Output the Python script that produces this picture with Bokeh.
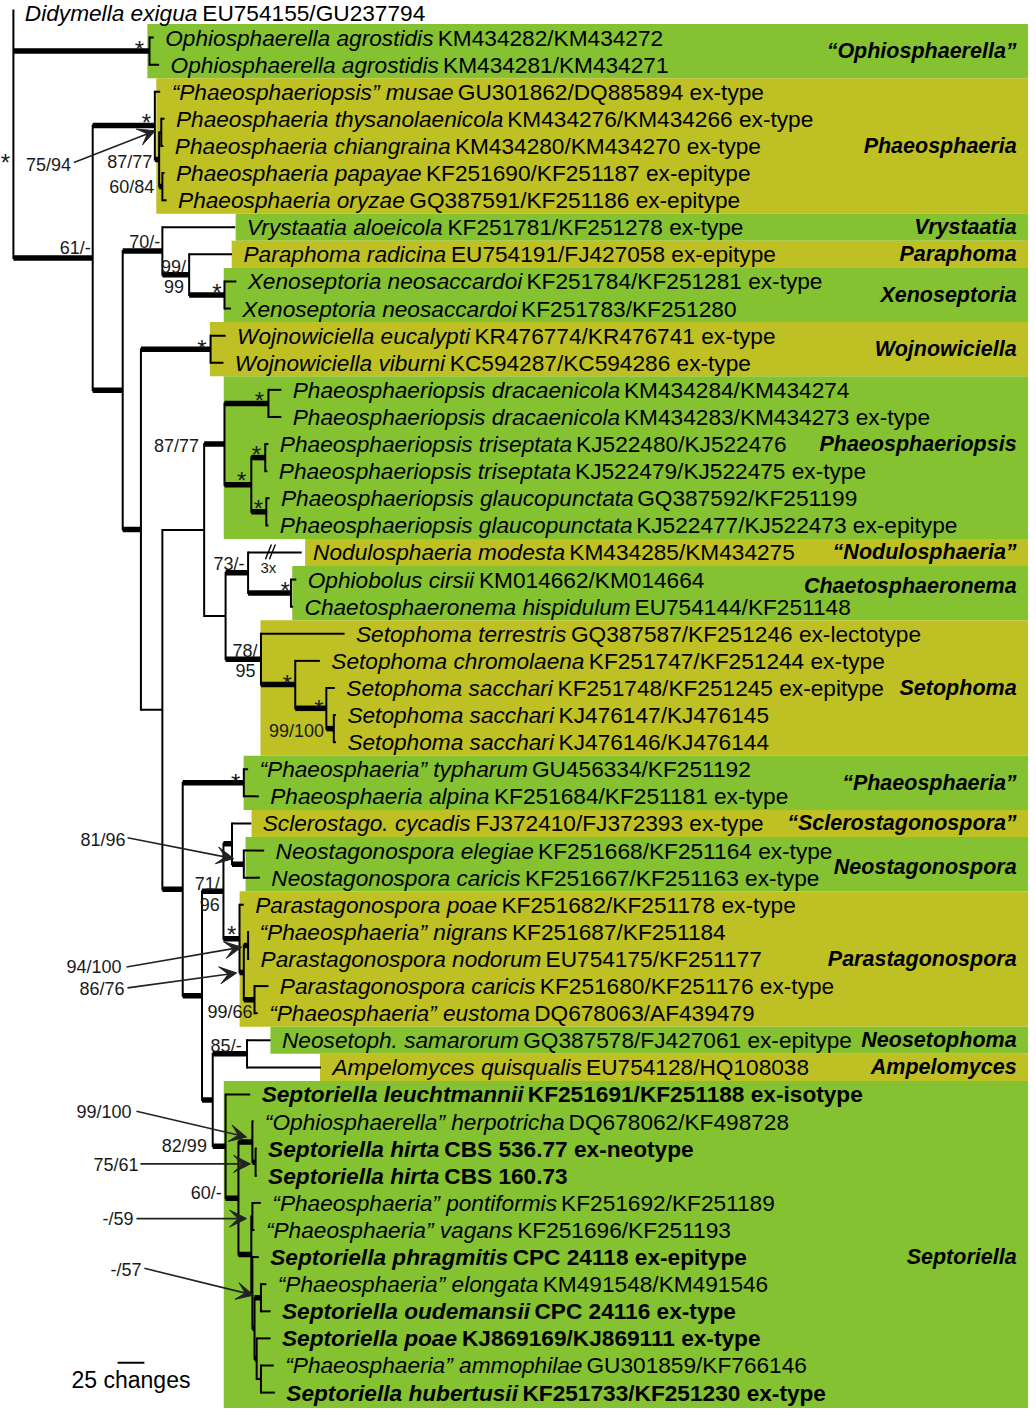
import glob, os
from bokeh.plotting import figure
from bokeh.models import Range1d, ColumnDataSource, Arrow, VeeHead
from bokeh.core.properties import value
from bokeh.embed import file_html
from bokeh.resources import INLINE

# ---------------- data: taxa (top to bottom) ----------------
leaf_name = [
    "Didymella exigua", "Ophiosphaerella agrostidis", "Ophiosphaerella agrostidis",
    "\u201cPhaeosphaeriopsis\u201d musae", "Phaeosphaeria thysanolaenicola", "Phaeosphaeria chiangraina",
    "Phaeosphaeria papayae", "Phaeosphaeria oryzae", "Vrystaatia aloeicola", "Paraphoma radicina",
    "Xenoseptoria neosaccardoi", "Xenoseptoria neosaccardoi", "Wojnowiciella eucalypti",
    "Wojnowiciella viburni", "Phaeosphaeriopsis dracaenicola", "Phaeosphaeriopsis dracaenicola",
    "Phaeosphaeriopsis triseptata", "Phaeosphaeriopsis triseptata", "Phaeosphaeriopsis glaucopunctata",
    "Phaeosphaeriopsis glaucopunctata", "Nodulosphaeria modesta", "Ophiobolus cirsii",
    "Chaetosphaeronema hispidulum", "Setophoma terrestris", "Setophoma chromolaena",
    "Setophoma sacchari", "Setophoma sacchari", "Setophoma sacchari",
    "\u201cPhaeosphaeria\u201d typharum", "Phaeosphaeria alpina", "Sclerostago. cycadis",
    "Neostagonospora elegiae", "Neostagonospora caricis", "Parastagonospora poae",
    "\u201cPhaeosphaeria\u201d nigrans", "Parastagonospora nodorum", "Parastagonospora caricis",
    "\u201cPhaeosphaeria\u201d eustoma", "Neosetoph. samarorum", "Ampelomyces quisqualis",
    "Septoriella leuchtmannii", "\u201cOphiosphaerella\u201d herpotricha", "Septoriella hirta",
    "Septoriella hirta", "\u201cPhaeosphaeria\u201d pontiformis", "\u201cPhaeosphaeria\u201d vagans",
    "Septoriella phragmitis", "\u201cPhaeosphaeria\u201d elongata", "Septoriella oudemansii",
    "Septoriella poae", "\u201cPhaeosphaeria\u201d ammophilae", "Septoriella hubertusii",
]
leaf_acc = [
    "EU754155/GU237794", "KM434282/KM434272", "KM434281/KM434271",
    "GU301862/DQ885894 ex-type", "KM434276/KM434266 ex-type", "KM434280/KM434270 ex-type",
    "KF251690/KF251187 ex-epitype", "GQ387591/KF251186 ex-epitype", "KF251781/KF251278 ex-type",
    "EU754191/FJ427058 ex-epitype", "KF251784/KF251281 ex-type", "KF251783/KF251280",
    "KR476774/KR476741 ex-type", "KC594287/KC594286 ex-type", "KM434284/KM434274",
    "KM434283/KM434273 ex-type", "KJ522480/KJ522476", "KJ522479/KJ522475 ex-type",
    "GQ387592/KF251199", "KJ522477/KJ522473 ex-epitype", "KM434285/KM434275",
    "KM014662/KM014664", "EU754144/KF251148", "GQ387587/KF251246 ex-lectotype",
    "KF251747/KF251244 ex-type", "KF251748/KF251245 ex-epitype", "KJ476147/KJ476145",
    "KJ476146/KJ476144", "GU456334/KF251192", "KF251684/KF251181 ex-type",
    "FJ372410/FJ372393 ex-type", "KF251668/KF251164 ex-type", "KF251667/KF251163 ex-type",
    "KF251682/KF251178 ex-type", "KF251687/KF251184", "EU754175/KF251177",
    "KF251680/KF251176 ex-type", "DQ678063/AF439479", "GQ387578/FJ427061 ex-epitype",
    "EU754128/HQ108038", "KF251691/KF251188 ex-isotype", "DQ678062/KF498728",
    "CBS 536.77 ex-neotype", "CBS 160.73", "KF251692/KF251189", "KF251696/KF251193",
    "CPC 24118 ex-epitype", "KM491548/KM491546", "CPC 24116 ex-type",
    "KJ869169/KJ869111 ex-type", "GU301859/KF766146", "KF251733/KF251230 ex-type",
]
leaf_bold = [False] * 40 + [True, False, True, True, False, False, True, False, True, True, False, True]
# tip depth of each terminal branch, in changes from the root
leaf_tip = [0, 131, 136, 137, 141, 140, 141, 143, 207, 204, 208, 203, 198, 196, 250, 250,
            238, 237, 239, 238, 269, 264, 261, 309, 286, 300, 301, 301, 219, 229, 222, 234,
            230, 215, 219, 220, 238, 228, 240, 287, 221, 224, 227, 227, 231, 225, 229, 236,
            240, 240, 243, 244]
leaf_parent = ["root", "ophio", "ophio", "ph", "ph2a", "ph2a", "ph4", "ph4", "n70", "n99",
               "xeno", "xeno", "wojno", "wojno", "drac", "drac", "tris", "tris", "glau", "glau",
               "n73", "ophcha", "ophcha", "n78", "seto2", "seto3", "seto4", "seto4", "typh", "typh",
               "scl", "neost", "neost", "P", "K", "K", "L", "L", "n85", "n85",
               "J", "N", "hirta", "hirta", "U", "U", "W", "R", "R", "S", "T", "T"]

# ---------------- data: internal nodes ----------------
node_name = ["root", "ophio", "n93", "ph", "ph2", "ph2a", "ph4", "r2", "n70", "n99", "xeno",
             "A", "wojno", "B", "C", "psopsis", "drac", "trisg", "tris", "glau", "E", "n73",
             "ophcha", "n78", "seto2", "seto3", "seto4", "D", "typh", "G", "H", "scl", "neost",
             "P", "Q", "K", "L", "I", "n85", "J", "M", "N", "hirta", "O", "U", "W", "X", "R",
             "S", "T"]
node_depth = [0, 127, 74, 132, 136, 138, 139, 102, 139, 164, 197,
              119, 184, 139, 178, 197, 238, 222, 235, 236, 198, 219,
              259, 231, 263, 292, 299, 158, 215, 176, 196, 204, 215,
              211, 215, 219, 225, 186, 218, 198, 210, 223, 226, 222, 223, 223, 225, 231,
              227, 231]
node_parent = [None, "root", "root", "n93", "ph", "ph2", "ph2", "n93", "r2", "n70", "n99",
               "r2", "A", "A", "B", "C", "psopsis", "psopsis", "trisg", "trisg", "C", "E",
               "n73", "E", "n78", "seto2", "seto3", "B", "D", "D", "G", "H", "scl",
               "H", "P", "Q", "Q", "G", "I", "I", "J", "M", "N", "M", "O", "O", "W", "X",
               "X", "S"]
node_thick = [False, True, True, True, True, False, True, True, True, True, True,
              True, True, False, False, True, True, True, True, True, False, True,
              True, True, True, True, True, True, True, True, True, True, True,
              True, True, True, True, True, True, True, True, True, True, True, False, False, True, True,
              True, False]

# ---------------- data: clades ----------------
clade_name = ["\u201cOphiosphaerella\u201d", "Phaeosphaeria", "Vrystaatia", "Paraphoma", "Xenoseptoria",
              "Wojnowiciella", "Phaeosphaeriopsis", "\u201cNodulosphaeria\u201d", "Chaetosphaeronema",
              "Setophoma", "\u201cPhaeosphaeria\u201d", "\u201cSclerostagonospora\u201d", "Neostagonospora",
              "Parastagonospora", "Neosetophoma", "Ampelomyces", "Septoriella"]
clade_first = [1, 3, 8, 9, 10, 12, 14, 20, 21, 23, 28, 30, 31, 33, 38, 39, 40]
clade_last = [2, 7, 8, 9, 11, 13, 19, 20, 22, 27, 29, 30, 32, 37, 38, 39, 51]
clade_label_row = [1.5, 5, 8, 9, 10.5, 12.5, 16, 20, 21.25, 25, 28.5, 30, 31.6, 35, 38, 39, 46]
clade_green = [True, False, True, False, True, False, True, False, True, False, True, False,
               True, False, True, False, True]

# ---------------- data: support values ----------------
support_text = ["*", "*", "*", "75/94", "87/77", "60/84", "61/-", "70/-", "99/", "99", "*", "*",
                "*", "87/77", "*", "*", "*", "73/-", "3x", "*", "78/", "95", "*", "*", "99/100",
                "*", "81/96", "71/", "96", "*", "94/100", "86/76", "99/66", "85/-", "99/100",
                "82/99", "75/61", "60/-", "-/59", "-/57"]
# ---------------- layout (pixels of the reference) ----------------
support_x = [5, 140, 147, 71, 153, 155, 91, 161, 187, 185, 218, 203, 261, 200, 258, 243, 260, 246,
             270, 287, 259, 257, 289, 321, 326, 237, 126, 221, 221, 233, 122, 125, 254, 243, 132,
             208, 139, 223, 134, 142]
support_y = [157, 44, 117, 165, 162, 188, 249, 243, 268, 288, 288, 344, 397, 448, 451, 477, 505,
             567, 570, 588, 654, 674, 681, 707, 735, 781, 844, 889, 909, 934, 972, 994, 1017,
             1051, 1118, 1152, 1171, 1199, 1225, 1277]
arrow_x0 = [74, 128, 127, 128, 137, 141, 137, 145]
arrow_y0 = [163, 842, 972, 993, 1117, 1170, 1225, 1275]
arrow_x1 = [156, 235, 243, 238, 248, 252, 248, 255]
arrow_y1 = [131, 863, 952, 978, 1143, 1170, 1225, 1302]
band_left_px = [148, 157, 237, 233, 225, 211, 225, 307, 294, 262, 245, 253, 247, 241, 272, 322, 225]

ROOT_PX, PX_PER_CHANGE = 13.0, 27.0 / 25.0
Y0_PX, ROW = 10.0, 27.255
LABEL_GAP_PX = 11.5
TOP_LABEL_NUDGE_PX = 3.0   # keeps the first taxon label inside the page
GREEN, OLIVE = "#84c232", "#bec024"
REF_W, REF_H = 1036.0, 1416.0


def xc(px):
    return (px - ROOT_PX) / PX_PER_CHANGE


def yi(py):
    return (py - Y0_PX) / ROW


# ---------------- font measuring ----------------
FONT_FILES = {"normal": "LiberationSans-Regular.ttf", "italic": "LiberationSans-Italic.ttf",
              "bold": "LiberationSans-Bold.ttf", "bold italic": "LiberationSans-BoldItalic.ttf"}
fonts = {}
try:
    from PIL import ImageFont
    for st, fn in FONT_FILES.items():
        for rootdir in ["/usr/share/fonts", "/usr/local/share/fonts", os.path.expanduser("~/.fonts"),
                        os.path.expanduser("~/.local/share/fonts")]:
            hits = glob.glob(os.path.join(rootdir, "**", fn), recursive=True)
            if hits:
                fonts[st] = ImageFont.truetype(hits[0], 100)
                break
except Exception:
    fonts = {}


def measure(text, style, size):
    f = fonts.get(style)
    if f is not None:
        return f.getlength(text) * size / 100.0
    k = 0.58 if "bold" in style else 0.53
    return len(text) * k * size


ref = measure(leaf_name[4], "italic", 100) + measure(" " + leaf_acc[4], "normal", 100)
LEAF_FS = max(19.0, min(25.0, 100.0 * 640.0 / ref))

# ---------------- tree geometry ----------------
children = {n: [] for n in node_name}
for i, par in enumerate(leaf_parent):
    children[par].append(("leaf", i))
for n, par in zip(node_name, node_parent):
    if par is not None:
        children[par].append(("node", n))
depth = dict(zip(node_name, node_depth))
ycache = {}


def ypos(kind, key):
    if kind == "leaf":
        return float(key)
    if key not in ycache:
        ys = [ypos(k, c) for k, c in children[key]]
        ycache[key] = (min(ys) + max(ys)) / 2.0
    return ycache[key]


# figure (covers the full reference extent)
p = figure(width=1028, height=1408, output_backend="svg", toolbar_location=None,
           x_range=Range1d(xc(0), xc(REF_W)), y_range=Range1d(yi(REF_H), yi(0)),
           x_axis_location=None, y_axis_location=None, min_border=0)
p.grid.visible = False
p.outline_line_color = None
p.background_fill_color = "white"
p.border_fill_color = "white"

# clade bands
btop, bbot = [], []
for k, (a, b) in enumerate(zip(clade_first, clade_last)):
    btop.append(a - 0.5)
    bbot.append(b + 0.5 if k < len(clade_first) - 1 else yi(REF_H))
p.quad(left=[xc(v) for v in band_left_px], right=[xc(REF_W)] * len(band_left_px),
       top=btop, bottom=bbot, fill_color=[GREEN if g else OLIVE for g in clade_green],
       line_color=None)

# branches
vx, vy0, vy1 = [], [], []
for n in node_name:
    ys = [ypos(k, c) for k, c in children[n]]
    vx.append(depth[n]); vy0.append(min(ys)); vy1.append(max(ys))
p.segment(x0=vx, y0=vy0, x1=vx, y1=vy1, line_color="black", line_width=2, line_cap="square")

thin_x0, thin_x1, thin_y, thick_x0, thick_x1, thick_y = [], [], [], [], [], []
for n, par, th in zip(node_name, node_parent, node_thick):
    if par is None:
        continue
    tgt = (thick_x0, thick_x1, thick_y) if th else (thin_x0, thin_x1, thin_y)
    tgt[0].append(depth[par]); tgt[1].append(depth[n]); tgt[2].append(ypos("node", n))
for i, (par, tip) in enumerate(zip(leaf_parent, leaf_tip)):
    thin_x0.append(depth[par]); thin_x1.append(tip); thin_y.append(float(i))
p.segment(x0=thin_x0, y0=thin_y, x1=thin_x1, y1=thin_y, line_color="black", line_width=2)
p.segment(x0=thick_x0, y0=thick_y, x1=thick_x1, y1=thick_y, line_color="black", line_width=5.5)

# break mark on the long Nodulosphaeria branch
p.segment(x0=[xc(267), xc(271)], y0=[yi(562), yi(562)], x1=[xc(273), xc(277)], y1=[yi(547), yi(547)],
          line_color="black", line_width=1.4)

# taxon labels (two styles per line)
groups = {"italic": ([], [], []), "normal": ([], [], []), "bold italic": ([], [], []), "bold": ([], [], [])}
for i in range(len(leaf_name)):
    x0 = ROOT_PX + leaf_tip[i] * PX_PER_CHANGE + LABEL_GAP_PX
    row = float(i) + (TOP_LABEL_NUDGE_PX / ROW if i == 0 else 0.0)
    s1, s2 = ("bold italic", "bold") if leaf_bold[i] else ("italic", "normal")
    w1 = measure(leaf_name[i], s1, LEAF_FS)
    sw = measure(" ", s2, LEAF_FS)
    for st, txt, xx in ((s1, leaf_name[i], x0), (s2, leaf_acc[i], x0 + w1 + sw)):
        g = groups[st]
        g[0].append(xc(xx)); g[1].append(row); g[2].append(txt)
for st, (gx, gy, gt) in groups.items():
    if gx:
        p.text(x=gx, y=gy, text=gt, text_font=value("Liberation Sans"), text_font_style=st,
               text_font_size=f"{LEAF_FS:.2f}px", text_baseline="middle", text_align="left",
               text_color="black")

# clade names
p.text(x=[xc(1024)] * len(clade_name), y=clade_label_row, text=clade_name,
       text_font=value("Liberation Sans"), text_font_style="bold italic", text_font_size="21.5px",
       text_baseline="middle", text_align="right", text_color="black")

# support values
sx_r, sy_r, st_r, sx_c, sy_c, st_c, sx_s, sy_s = [], [], [], [], [], [], [], []
for t, x, y in zip(support_text, support_x, support_y):
    if t == "*":
        sx_s.append(xc(x)); sy_s.append(yi(y + 5.5))
    elif t == "3x":
        sx_c.append(xc(x)); sy_c.append(yi(y)); st_c.append(t)
    else:
        sx_r.append(xc(x)); sy_r.append(yi(y)); st_r.append(t)
p.text(x=sx_r, y=sy_r, text=st_r, text_font=value("Liberation Sans"), text_font_size="18px",
       text_baseline="middle", text_align="right", text_color="#1a1a1a")
p.text(x=sx_c, y=sy_c, text=st_c, text_font=value("Liberation Sans"), text_font_size="15px",
       text_baseline="middle", text_align="center", text_color="#1a1a1a")
p.text(x=sx_s, y=sy_s, text=["*"] * len(sx_s), text_font=value("Liberation Sans"), text_font_size="24px",
       text_baseline="middle", text_align="center", text_color="#1a1a1a")

# arrows
for a, b, c, d in zip(arrow_x0, arrow_y0, arrow_x1, arrow_y1):
    p.add_layout(Arrow(end=VeeHead(size=17, fill_color="#222222", line_color="#222222", line_width=1),
                       x_start=xc(a), y_start=yi(b), x_end=xc(c), y_end=yi(d),
                       line_color="#222222", line_width=1.6))

# scale bar
SCALE_CHANGES = 25
p.segment(x0=[xc(118)], y0=[yi(1370)], x1=[xc(118) + SCALE_CHANGES], y1=[yi(1370)],
          line_color="black", line_width=2)
p.text(x=[xc(118) + SCALE_CHANGES / 2.0], y=[yi(1387)], text=[f"{SCALE_CHANGES} changes"],
       text_font=value("Liberation Sans"), text_font_size="23px", text_baseline="middle",
       text_align="center", text_color="black")

open("out.html", "w").write(file_html(p, INLINE))
